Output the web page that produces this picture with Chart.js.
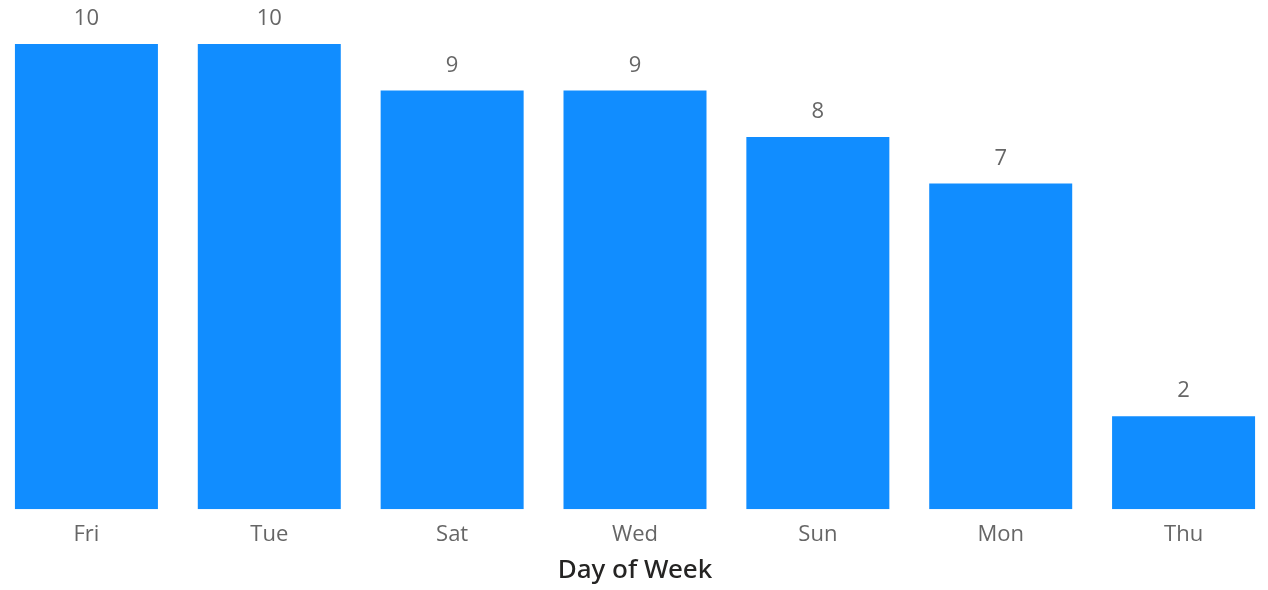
<!DOCTYPE html>
<html>
<head>
<meta charset="utf-8">
<script src="https://cdn.jsdelivr.net/npm/chart.js@4"></script>
<style>
html,body{margin:0;padding:0;background:#fff;overflow:hidden;width:1268px;height:590px;}
#wrap{position:absolute;left:-5px;top:0;width:1280px;height:590px;}
</style>
</head>
<body>
<div id="wrap"><canvas id="c" width="1280" height="590"></canvas></div>
<script>
const categories = ["Fri","Tue","Sat","Wed","Sun","Mon","Thu"];
const counts = [10,10,9,9,8,7,2];
const axisTitle = "Day of Week";

const labelPlugin = {
  id: 'valueLabels',
  afterDatasetsDraw(chart) {
    const ctx = chart.ctx;
    const meta = chart.getDatasetMeta(0);
    ctx.save();
    ctx.font = '22px "Open Sans", sans-serif';
    ctx.fillStyle = '#666666';
    ctx.textAlign = 'center';
    ctx.textBaseline = 'middle';
    meta.data.forEach((bar, i) => {
      ctx.fillText(String(counts[i]), bar.x, bar.y - 25);
    });
    ctx.restore();
  }
};

new Chart(document.getElementById('c'), {
  type: 'bar',
  data: {
    labels: categories,
    datasets: [{
      data: counts,
      backgroundColor: '#118DFF',
      barPercentage: 1,
      categoryPercentage: 143/182.86
    }]
  },
  options: {
    responsive: false,
    animation: false,
    layout: { padding: { top: 44, left: 0, right: 0, bottom: 0 } },
    plugins: { legend: { display: false }, tooltip: { enabled: false } },
    scales: {
      y: { display: false, min: 0, max: 10 },
      x: {
        grid: { display: false, drawTicks: false },
        border: { display: false },
        ticks: { color: '#666666', font: { family: '"Open Sans", sans-serif', size: 22 }, padding: 12 },
        title: { display: true, text: axisTitle, color: '#252423', font: { family: '"Noto Sans", sans-serif', size: 26, weight: '500', lineHeight: 0.8 }, padding: { top: 1, bottom: 8.6 } }
      }
    }
  },
  plugins: [labelPlugin]
});
</script>
</body>
</html>
